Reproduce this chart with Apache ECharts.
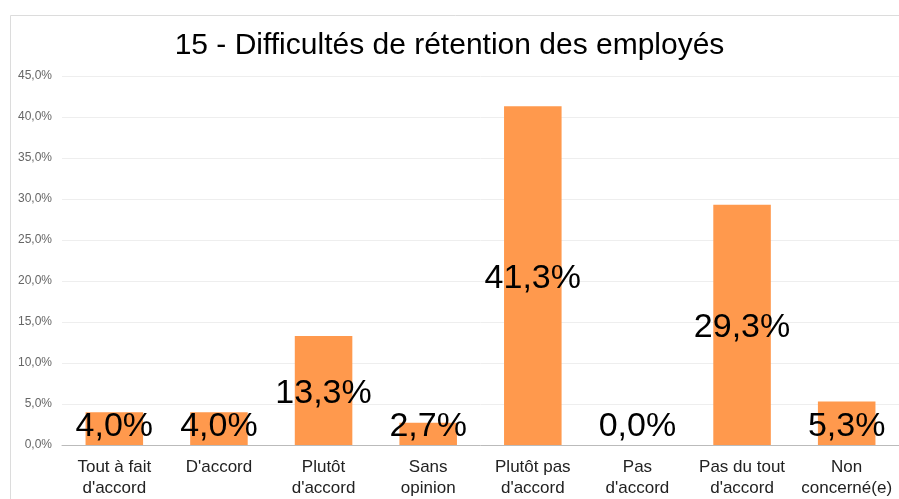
<!DOCTYPE html>
<html>
<head>
<meta charset="utf-8">
<script src="https://cdn.jsdelivr.net/npm/echarts@6/dist/echarts.min.js"></script>
<style>
  html, body { margin: 0; padding: 0; background: #fff; }
  #chart { width: 899px; height: 499px; }
</style>
</head>
<body>
<div id="chart"></div>
<script>
// catégories et valeurs (%)
var categories = ["Tout à fait\nd'accord", "D'accord", "Plutôt\nd'accord", "Sans\nopinion",
                  "Plutôt pas\nd'accord", "Pas\nd'accord", "Pas du tout\nd'accord", "Non\nconcerné(e)"];
var values = [4.0, 4.0, 13.3, 2.7, 41.3, 0.0, 29.3, 5.3];
var yTicks = [0, 5, 10, 15, 20, 25, 30, 35, 40, 45];

function pct(v) {
    return v.toFixed(1).replace('.', ',') + '%';
}

var myChart = echarts.init(document.getElementById('chart'));

var option = {
    backgroundColor: '#fff',
    title: {
        text: '15 - Difficultés de rétention des employés',
        left: 'center',
        top: 26,
        textStyle: {
            fontFamily: 'Liberation Sans, Arial, sans-serif',
            fontSize: 30,
            fontWeight: 'normal',
            color: '#000'
        }
    },
    graphic: [{
        type: 'rect',
        shape: { x: 10.5, y: 15.5, width: 1000, height: 600 },
        style: { fill: 'none', stroke: '#dcdcdc', lineWidth: 1 },
        silent: true
    }],
    grid: { left: 62, right: 0, top: 76, bottom: 51 },
    xAxis: {
        type: 'category',
        data: categories,
        axisTick: { show: false },
        axisLine: { lineStyle: { color: '#bbb', width: 1 } },
        axisLabel: {
            interval: 0,
            margin: 12,
            fontFamily: 'Liberation Sans, Arial, sans-serif',
            fontSize: 17,
            lineHeight: 21,
            color: '#222'
        }
    },
    yAxis: {
        type: 'value',
        min: yTicks[0],
        max: yTicks[yTicks.length - 1],
        interval: 5,
        axisLine: { show: false },
        axisTick: { show: false },
        splitLine: { lineStyle: { color: '#eee' } },
        axisLabel: {
            margin: 10,
            fontFamily: 'Liberation Sans, Arial, sans-serif',
            fontSize: 12,
            color: '#666',
            formatter: pct
        }
    },
    series: [{
        type: 'bar',
        barWidth: '55%',
        data: values.map(function (v) {
            var big = v >= 8;
            return {
                value: v,
                label: big
                    ? { position: 'inside', offset: [0, 3] }
                    : { position: 'insideBottom', distance: 1 }
            };
        }),
        itemStyle: { color: '#ff994d' },
        label: {
            show: true,
            fontFamily: 'Liberation Sans, Arial, sans-serif',
            fontSize: 34,
            color: '#000',
            formatter: function (p) { return pct(p.value); }
        }
    }]
};

myChart.setOption(option);
</script>
</body>
</html>
